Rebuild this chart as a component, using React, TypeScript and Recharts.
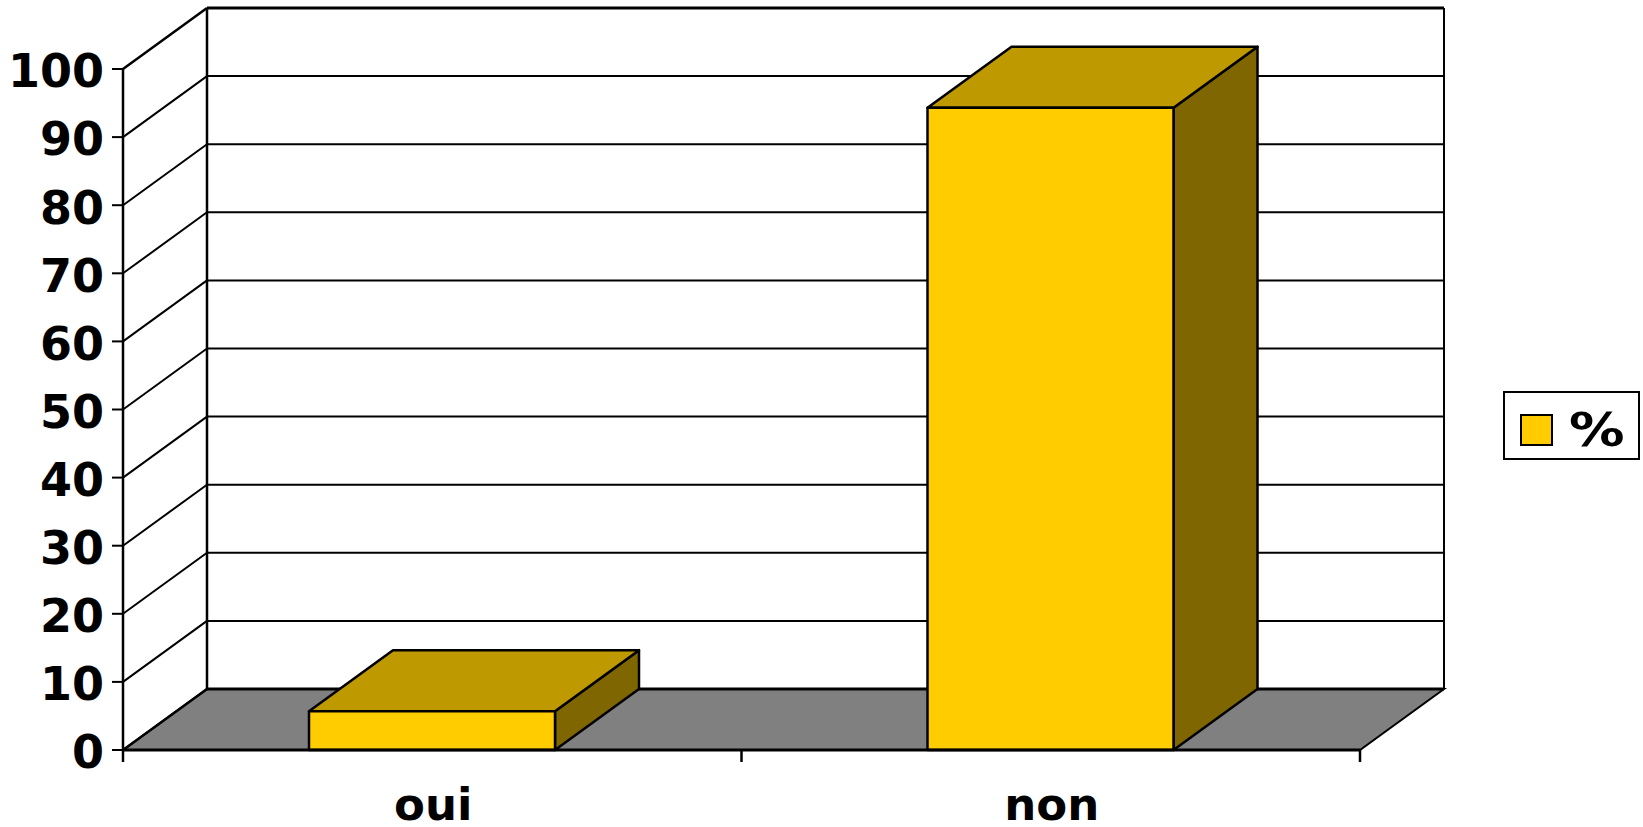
import { BarChart, Bar, XAxis, YAxis, CartesianGrid, Legend } from 'recharts'

const categories = ['oui', 'non']
const percentValues = [5.7, 94.3]
const yTicks = [0, 10, 20, 30, 40, 50, 60, 70, 80, 90, 100]
const seriesName = '%'

const chartData = categories.map((label, i) => ({ label, value: percentValues[i] }))

const WIDTH = 1643
const HEIGHT = 827
const PLOT_LEFT = 123
const PLOT_RIGHT = 1360
const PLOT_TOP = 69
const PLOT_BOTTOM = 750

// Depth of the fake 3D box
const DEPTH_X = 84
const DEPTH_Y = 61

const FONT = '"DejaVu Sans", Verdana, sans-serif'
const BLACK = '#000000'
const FRONT = '#FFCC00'
const TOP = '#BF9900'
const SIDE = '#806600'
const FLOOR = '#808080'

// Walls, floor and gridlines all hang off the gridline positions
const WallLine = (props: any) => {
  const { x1, x2, y1 } = props
  const backLeft = x1 + DEPTH_X
  const backRight = x2 + DEPTH_X
  const backY = y1 - DEPTH_Y
  const isFloor = Math.abs(y1 - PLOT_BOTTOM) < 1
  const isTop = Math.abs(y1 - PLOT_TOP) < 1
  return (
    <g>
      {isFloor && (
        <polygon
          points={`${x1},${y1} ${backLeft},${backY} ${backRight},${backY} ${x2},${y1}`}
          fill={FLOOR}
          stroke={BLACK}
          strokeWidth={2}
        />
      )}
      {isTop && (
        <>
          <line x1={backLeft} y1={backY} x2={backLeft} y2={PLOT_BOTTOM - DEPTH_Y} stroke={BLACK} strokeWidth={2.5} />
          <line x1={backRight} y1={backY} x2={backRight} y2={PLOT_BOTTOM - DEPTH_Y} stroke={BLACK} strokeWidth={2} />
        </>
      )}
      <line x1={x1} y1={y1} x2={backLeft} y2={backY} stroke={BLACK} strokeWidth={isFloor || isTop ? 2.5 : 2} />
      <line x1={backLeft} y1={backY} x2={backRight} y2={backY} stroke={BLACK} strokeWidth={isFloor || isTop ? 3 : 2} />
    </g>
  )
}

const Box3D = (props: any) => {
  const { x, y, width, height } = props
  const right = x + width
  const bottom = y + height
  return (
    <g stroke={BLACK} strokeWidth={2.5} strokeLinejoin="round">
      <polygon
        points={`${right},${y} ${right + DEPTH_X},${y - DEPTH_Y} ${right + DEPTH_X},${bottom - DEPTH_Y} ${right},${bottom}`}
        fill={SIDE}
      />
      <polygon
        points={`${x},${y} ${x + DEPTH_X},${y - DEPTH_Y} ${right + DEPTH_X},${y - DEPTH_Y} ${right},${y}`}
        fill={TOP}
      />
      <rect x={x} y={y} width={width} height={height} fill={FRONT} />
    </g>
  )
}

// Tick marks sit between the categories, not under the labels
const CategoryTick = (props: any) => {
  const { x, payload, index } = props
  const halfBand = (PLOT_RIGHT - PLOT_LEFT) / categories.length / 2
  const tickLine = (tx: number) => (
    <line x1={tx} y1={PLOT_BOTTOM} x2={tx} y2={PLOT_BOTTOM + 12} stroke={BLACK} strokeWidth={2.5} />
  )
  return (
    <g>
      {tickLine(x - halfBand)}
      {index === categories.length - 1 && tickLine(x + halfBand)}
      <text
        x={x + 1}
        y={PLOT_BOTTOM + 70}
        textAnchor="middle"
        fontFamily={FONT}
        fontSize={45}
        fontWeight={700}
        fill={BLACK}
      >
        {payload.value}
      </text>
    </g>
  )
}

const LegendBox = () => (
  <div
    style={{
      boxSizing: 'border-box',
      width: 137,
      height: 69,
      border: '2px solid #000',
      background: '#fff',
      position: 'relative'
    }}
  >
    <div
      style={{
        position: 'absolute',
        left: 15,
        top: 21,
        width: 33,
        height: 32,
        boxSizing: 'border-box',
        border: '2px solid #000',
        background: FRONT
      }}
    />
    <span
      style={{
        position: 'absolute',
        left: 64,
        top: 11,
        fontFamily: FONT,
        fontSize: 47,
        fontWeight: 700,
        lineHeight: '52px',
        transform: 'scaleX(1.18)',
        transformOrigin: 'left center'
      }}
    >
      {seriesName}
    </span>
  </div>
)

export default function App() {
  return (
    <div style={{ position: 'absolute', left: 0, top: 0, width: WIDTH, height: HEIGHT, background: '#fff' }}>
      <BarChart
        width={WIDTH}
        height={HEIGHT}
        data={chartData}
        margin={{ top: PLOT_TOP, right: WIDTH - PLOT_RIGHT, left: 0, bottom: 0 }}
      >
        <CartesianGrid horizontal={(p: any) => <WallLine key={p.key} {...p} />} vertical={false} />
        <XAxis
          dataKey="label"
          height={HEIGHT - PLOT_BOTTOM}
          interval={0}
          tickLine={false}
          tickMargin={0}
          axisLine={{ stroke: BLACK, strokeWidth: 3 }}
          tick={<CategoryTick />}
        />
        <YAxis
          width={PLOT_LEFT}
          domain={[0, 100]}
          ticks={yTicks}
          interval={0}
          tickSize={11}
          tickMargin={8}
          tickLine={{ stroke: BLACK, strokeWidth: 2 }}
          axisLine={{ stroke: BLACK, strokeWidth: 2.5 }}
          tick={{ fontFamily: FONT, fontSize: 46, fontWeight: 700, fill: BLACK, dy: 2 }}
        />
        <Legend
          layout="vertical"
          align="center"
          verticalAlign="middle"
          content={<LegendBox />}
          wrapperStyle={{ left: 1503, top: 391, width: 137, height: 69 }}
        />
        <Bar dataKey="value" name={seriesName} barSize={246} shape={<Box3D />} isAnimationActive={false} />
      </BarChart>
    </div>
  )
}
